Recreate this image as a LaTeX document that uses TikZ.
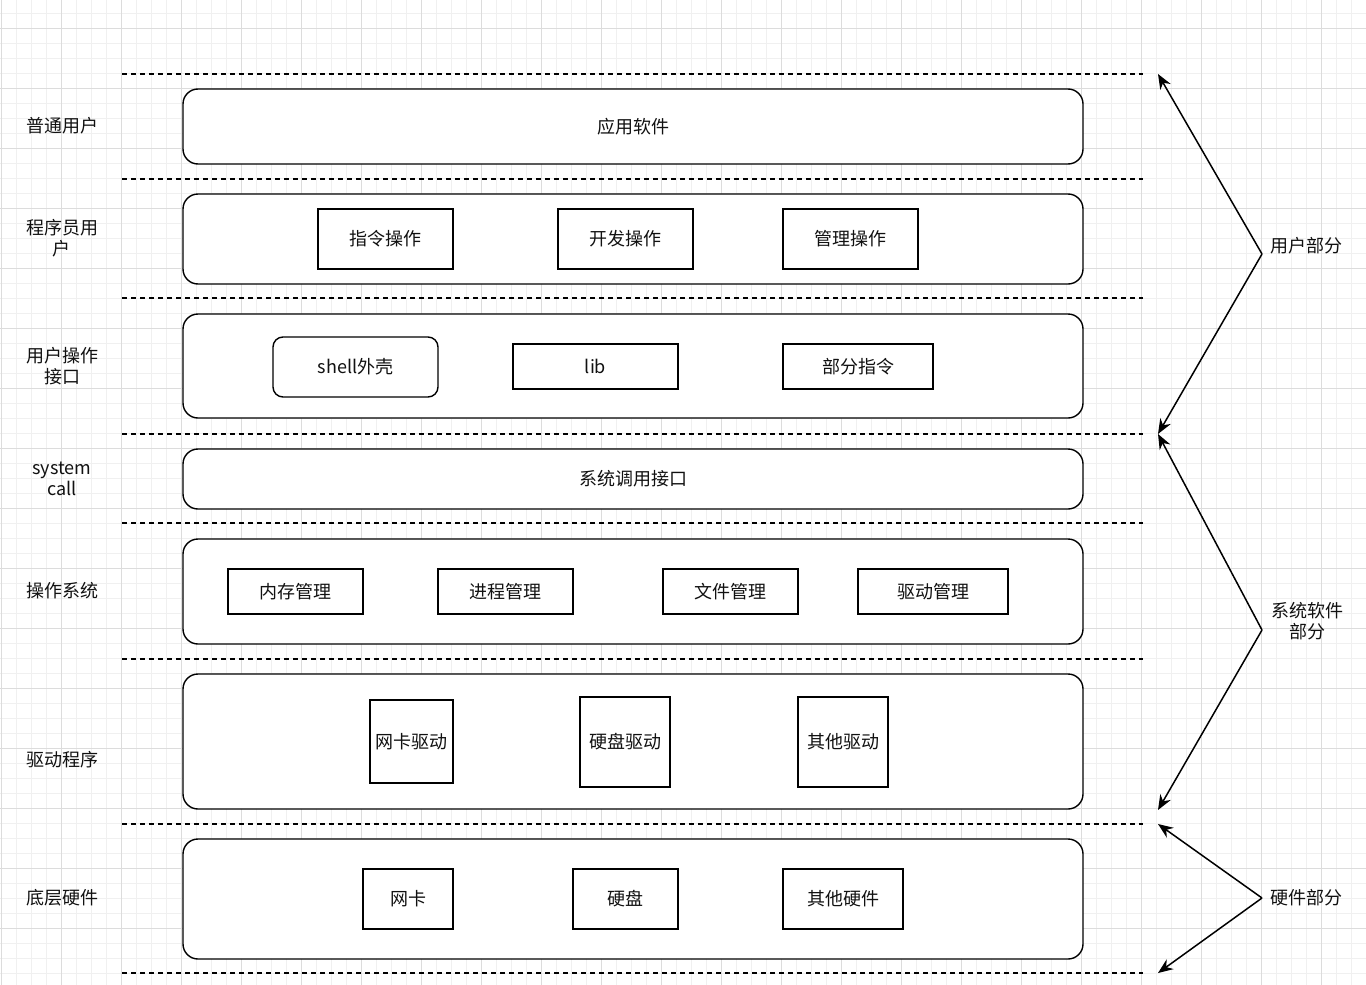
\documentclass[tikz,border=0pt]{standalone}
\usepackage{fontspec}
\setmainfont{Noto Sans CJK SC}
\usetikzlibrary{arrows.meta}
\definecolor{minorg}{HTML}{F0F0F0}
\definecolor{majorg}{HTML}{DCDCDC}
\definecolor{txt}{HTML}{111111}
\tikzset{
  x=1pt, y=-1pt,
  every node/.style={font=\fontsize{18}{21}\selectfont, text=txt, align=center, inner sep=0pt},
  bigbox/.style={draw=black, line width=1.4pt, rounded corners=15pt, fill=white},
  smallbox/.style={draw=black, line width=1.4pt, fill=white},
  roundbox/.style={draw=black, line width=1.4pt, rounded corners=10pt, fill=white},
  sep/.style={draw=black, line width=1.4pt, dash pattern=on 5pt off 4pt},
  arr/.style={draw=black, line width=1.5pt, -{Stealth[length=15pt,width=12pt]}},
  lbl/.style={},
  minorline/.style={draw=minorg, line width=0.8pt},
  majorline/.style={draw=majorg, line width=1pt},
}
\begin{document}
\begin{tikzpicture}
\useasboundingbox (0,0) rectangle (1366,985);
\fill[white] (0,0) rectangle (1366,985);
% grid
\foreach \k in {0,...,91}{
  \draw[minorline] ({1+15*\k},0) -- ({1+15*\k},985);
}
\foreach \k in {-1,...,64}{
  \draw[minorline] (0,{28+15*\k}) -- (1366,{28+15*\k});
}
\foreach \k in {0,...,22}{
  \draw[majorline] ({1+60*\k},0) -- ({1+60*\k},985);
}
\foreach \k in {0,...,16}{
  \draw[majorline] (0,{28+60*\k}) -- (1366,{28+60*\k});
}
% separators
\foreach \i/\y in {1/74,2/179,3/298,4/434,5/523,6/659,7/824,8/973}{
  \coordinate (dl\i) at (122,\y);
  \coordinate (dr\i) at (1143,\y);
  \draw[sep] (dl\i) -- (dr\i);
}
% big layer boxes
\node[bigbox, minimum width=900pt, minimum height=75pt] (l1) at (633,126.5) {应用软件};
\node[bigbox, minimum width=900pt, minimum height=90pt] (l2) at (633,239) {};
\node[bigbox, minimum width=900pt, minimum height=104pt] (l3) at (633,366) {};
\node[bigbox, minimum width=900pt, minimum height=60pt] (l4) at (633,479) {系统调用接口};
\node[bigbox, minimum width=900pt, minimum height=105pt] (l5) at (633,591.5) {};
\node[bigbox, minimum width=900pt, minimum height=135pt] (l6) at (633,741.5) {};
\node[bigbox, minimum width=900pt, minimum height=120pt] (l7) at (633,899) {};
% row 2
\node[smallbox, minimum width=135pt, minimum height=60pt] (b21) at (385.5,239) {指令操作};
\node[smallbox, minimum width=135pt, minimum height=60pt] (b22) at (625.5,239) {开发操作};
\node[smallbox, minimum width=135pt, minimum height=60pt] (b23) at (850.5,239) {管理操作};
% row 3
\node[roundbox, minimum width=165pt, minimum height=60pt] (b31) at (355.5,367) {shell外壳};
\node[smallbox, minimum width=165pt, minimum height=45pt] (b32) at (595.5,366.5) {lib};
\node[smallbox, minimum width=150pt, minimum height=45pt] (b33) at (858,366.5) {部分指令};
% row 5
\node[smallbox, minimum width=135pt, minimum height=45pt] (b51) at (295.5,591.5) {内存管理};
\node[smallbox, minimum width=135pt, minimum height=45pt] (b52) at (505.5,591.5) {进程管理};
\node[smallbox, minimum width=135pt, minimum height=45pt] (b53) at (730.5,591.5) {文件管理};
\node[smallbox, minimum width=150pt, minimum height=45pt] (b54) at (933,591.5) {驱动管理};
% row 6
\node[smallbox, minimum width=83pt, minimum height=83pt] (b61) at (411.5,741.5) {网卡驱动};
\node[smallbox, minimum width=90pt, minimum height=90pt] (b62) at (625,742) {硬盘驱动};
\node[smallbox, minimum width=90pt, minimum height=90pt] (b63) at (843,742) {其他驱动};
% row 7
\node[smallbox, minimum width=90pt, minimum height=60pt] (b71) at (408,899) {网卡};
\node[smallbox, minimum width=105pt, minimum height=60pt] (b72) at (625.5,899) {硬盘};
\node[smallbox, minimum width=120pt, minimum height=60pt] (b73) at (843,899) {其他硬件};
% left labels
\node[lbl] (t1) at (62,126) {普通用户};
\node[lbl] (t2) at (62,238) {程序员用\\户};
\node[lbl] (t3) at (62,366) {用户操作\\接口};
\node[lbl] (t4) at (62,479) {system\\call};
\node[lbl] (t5) at (62,591) {操作系统};
\node[lbl] (t6) at (62,760) {驱动程序};
\node[lbl] (t7) at (62,898) {底层硬件};
% right labels and arrows
\node[lbl, anchor=west] (u) at (1270,246) {用户部分};
\node[lbl] (s) at (1307,621) {系统软件\\部分};
\node[lbl, anchor=west] (h) at (1270,898) {硬件部分};
\coordinate (ua) at (1262,254);
\coordinate (ut) at (1158,74);
\coordinate (ub) at (1158,434);
\coordinate (sa) at (1262,630);
\coordinate (st) at (1158,434);
\coordinate (sb) at (1158,810);
\coordinate (ha) at (1262,898);
\coordinate (ht) at (1158,824);
\coordinate (hb) at (1158,973);
\draw[arr] (ua) -- (ut);
\draw[arr] (ua) -- (ub);
\draw[arr] (sa) -- (st);
\draw[arr] (sa) -- (sb);
\draw[arr] (ha) -- (ht);
\draw[arr] (ha) -- (hb);
\end{tikzpicture}
\end{document}
